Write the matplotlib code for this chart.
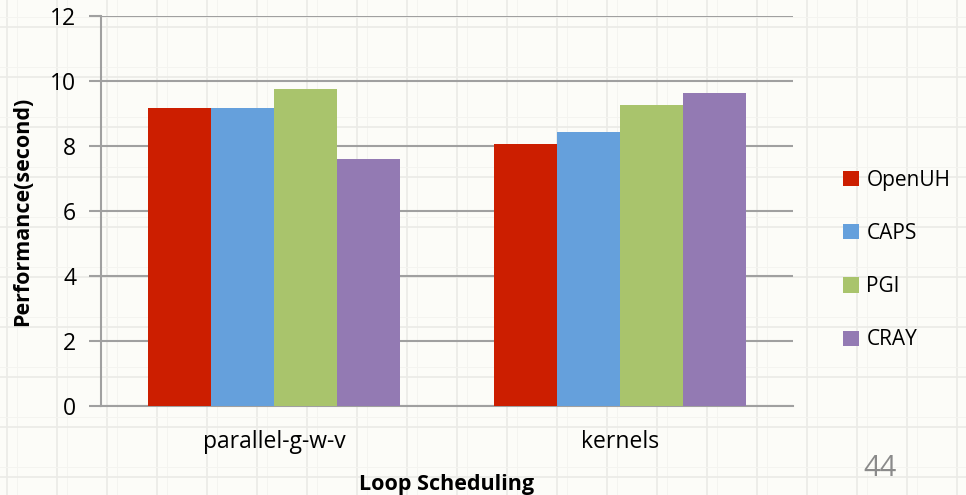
import numpy as np
import matplotlib.pyplot as plt

plt.rcParams['font.family'] = ['Open Sans', 'DejaVu Sans']

# loop scheduling results (seconds)
categories = ["parallel-g-w-v", "kernels"]
compilers = ["OpenUH", "CAPS", "PGI", "CRAY"]
openuh = [9.16, 8.06]
caps = [9.18, 8.43]
pgi = [9.74, 9.26]
cray = [7.59, 9.63]
colors = ["#cc1e00", "#65a0dc", "#a9c46c", "#937ab3"]

W, H = 966, 495
fig = plt.figure(figsize=(W / 100, H / 100), dpi=100)
fig.patch.set_facecolor("#fcfcf8")

# graph-paper background
bg = fig.add_axes([0, 0, 1, 1], zorder=0)
bg.set_xlim(0, W)
bg.set_ylim(H, 0)
bg.axis("off")
for x in np.arange(7, W, 50):
    bg.axvline(x, color="#ebebe7", lw=1.2)
    bg.axvline(x + 10, color="#f4f4f0", lw=0.7)
for y in np.arange(27, H, 50):
    bg.axhline(y, color="#ebebe7", lw=1.2)
    bg.axhline(y - 10, color="#f4f4f0", lw=0.7)

ax = fig.add_axes([101 / W, 1 - 406 / H, 692 / W, 390 / H], zorder=1)
ax.patch.set_alpha(0)

series = [openuh, caps, pgi, cray]
xpos = np.arange(len(categories))
bw = 0.182
for i, (name, vals) in enumerate(zip(compilers, series)):
    ax.bar(xpos + (i - 1.5) * bw, vals, bw, color=colors[i], label=name, zorder=3)

ax.set_xlim(-0.5, 1.5)
ax.set_ylim(0, 12)
ax.set_yticks(range(0, 13, 2))
ax.yaxis.grid(True, color="#a0a0a0", lw=1.5, zorder=1)
ax.set_axisbelow(True)
for s in ["top", "right"]:
    ax.spines[s].set_visible(False)
for s in ["left", "bottom"]:
    ax.spines[s].set_color("#a0a0a0")
    ax.spines[s].set_linewidth(1.5)
ax.tick_params(axis="y", length=9, width=1.5, color="#a0a0a0", labelsize=16.5, pad=9)
ax.tick_params(axis="x", length=0, labelsize=16.5, pad=17)
ax.set_xticks(xpos)
ax.set_xticklabels(categories)

ax.set_ylabel("Performance(second)", fontsize=15.5, fontweight="bold", labelpad=12)
ax.set_xlabel("Loop Scheduling", fontsize=15.5, fontweight="bold", labelpad=15)

fig.legend(loc="center left", bbox_to_anchor=(833 / W, 1 - 260 / H), frameon=False,
           fontsize=15, handlelength=0.75, handleheight=0.75, handletextpad=0.35,
           labelspacing=1.55, borderpad=0)

fig.text(880 / W, 1 - 468 / H, "44", fontsize=21, color="#8a8a8a", ha="center", va="center")

fig.savefig("out.png", dpi=100, facecolor=fig.get_facecolor())
